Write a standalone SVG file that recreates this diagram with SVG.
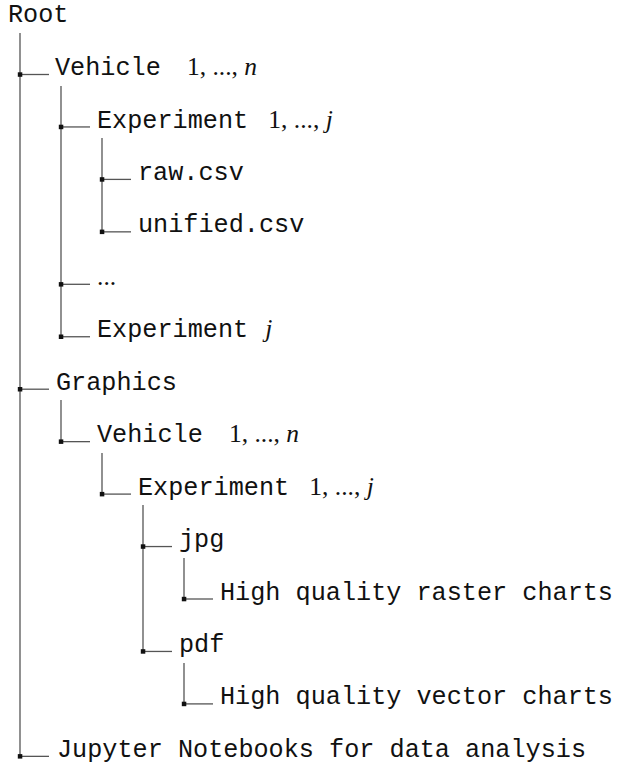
<svg xmlns="http://www.w3.org/2000/svg" width="618" height="765" viewBox="0 0 618 765">
<style>
.t{font-family:"Liberation Mono",monospace;font-size:25.2px;fill:#111}
.m{font-family:"Liberation Serif",serif;font-size:25.5px}
.i{font-style:italic}
.c line{stroke:#555;stroke-width:1.3}
.c rect{fill:#111}
</style>
<rect width="618" height="765" fill="#fff"/>
<g id="connectors" class="c">
<line x1="20" y1="33" x2="20" y2="756.35"/>
<line x1="61" y1="86" x2="61" y2="336.75"/>
<line x1="102" y1="138" x2="102" y2="231.85"/>
<line x1="61" y1="400" x2="61" y2="441.65"/>
<line x1="102" y1="453" x2="102" y2="494.1"/>
<line x1="143" y1="505" x2="143" y2="651.45"/>
<line x1="184" y1="558" x2="184" y2="599"/>
<line x1="184" y1="663" x2="184" y2="703.9"/>
<line x1="20" y1="74.5" x2="49" y2="74.5"/><rect x="17.8" y="72.3" width="4.5" height="4.5"/>
<line x1="61" y1="126.95" x2="90" y2="126.95"/><rect x="58.8" y="124.7" width="4.5" height="4.5"/>
<line x1="102" y1="179.4" x2="131" y2="179.4"/><rect x="99.8" y="177.2" width="4.5" height="4.5"/>
<line x1="102" y1="231.85" x2="131" y2="231.85"/><rect x="99.8" y="229.6" width="4.5" height="4.5"/>
<line x1="61" y1="284.3" x2="90" y2="284.3"/><rect x="58.8" y="282.1" width="4.5" height="4.5"/>
<line x1="61" y1="336.75" x2="90" y2="336.75"/><rect x="58.8" y="334.5" width="4.5" height="4.5"/>
<line x1="20" y1="389.2" x2="49" y2="389.2"/><rect x="17.8" y="387" width="4.5" height="4.5"/>
<line x1="61" y1="441.65" x2="90" y2="441.65"/><rect x="58.8" y="439.4" width="4.5" height="4.5"/>
<line x1="102" y1="494.1" x2="131" y2="494.1"/><rect x="99.8" y="491.9" width="4.5" height="4.5"/>
<line x1="143" y1="546.55" x2="172" y2="546.55"/><rect x="140.8" y="544.3" width="4.5" height="4.5"/>
<line x1="184" y1="599" x2="213" y2="599"/><rect x="181.8" y="596.8" width="4.5" height="4.5"/>
<line x1="143" y1="651.45" x2="172" y2="651.45"/><rect x="140.8" y="649.2" width="4.5" height="4.5"/>
<line x1="184" y1="703.9" x2="213" y2="703.9"/><rect x="181.8" y="701.7" width="4.5" height="4.5"/>
<line x1="20" y1="756.35" x2="49" y2="756.35"/><rect x="17.8" y="754.1" width="4.5" height="4.5"/>
</g>
<g id="root"><text class="t" x="8" y="21.5">Root</text></g>
<g id="vehicle1"><text class="t" x="55" y="75">Vehicle <tspan class="m" dx="11">1, ..., </tspan><tspan class="m i">n</tspan></text></g>
<g id="experiment1"><text class="t" x="97" y="127.5">Experiment <tspan class="m" dx="5">1, ..., </tspan><tspan class="m i">j</tspan></text></g>
<g id="raw"><text class="t" x="138" y="180">raw.csv</text></g>
<g id="unified"><text class="t" x="138" y="232.4">unified.csv</text></g>
<g id="ellipsis"><text class="t m" x="97" y="284.8">...</text></g>
<g id="experimentj"><text class="t" x="97" y="337.3">Experiment <tspan class="m i" dx="2">j</tspan></text></g>
<g id="graphics"><text class="t" x="56" y="389.7">Graphics</text></g>
<g id="vehicle2"><text class="t" x="97" y="442.2">Vehicle <tspan class="m" dx="11">1, ..., </tspan><tspan class="m i">n</tspan></text></g>
<g id="experiment2"><text class="t" x="138" y="494.6">Experiment <tspan class="m" dx="5">1, ..., </tspan><tspan class="m i">j</tspan></text></g>
<g id="jpg"><text class="t" x="179" y="547.1">jpg</text></g>
<g id="raster"><text class="t" x="220" y="599.5">High quality raster charts</text></g>
<g id="pdf"><text class="t" x="179" y="652">pdf</text></g>
<g id="vector"><text class="t" x="220" y="704.4">High quality vector charts</text></g>
<g id="jupyter"><text class="t" x="57" y="756.9">Jupyter Notebooks for data analysis</text></g>
</svg>
